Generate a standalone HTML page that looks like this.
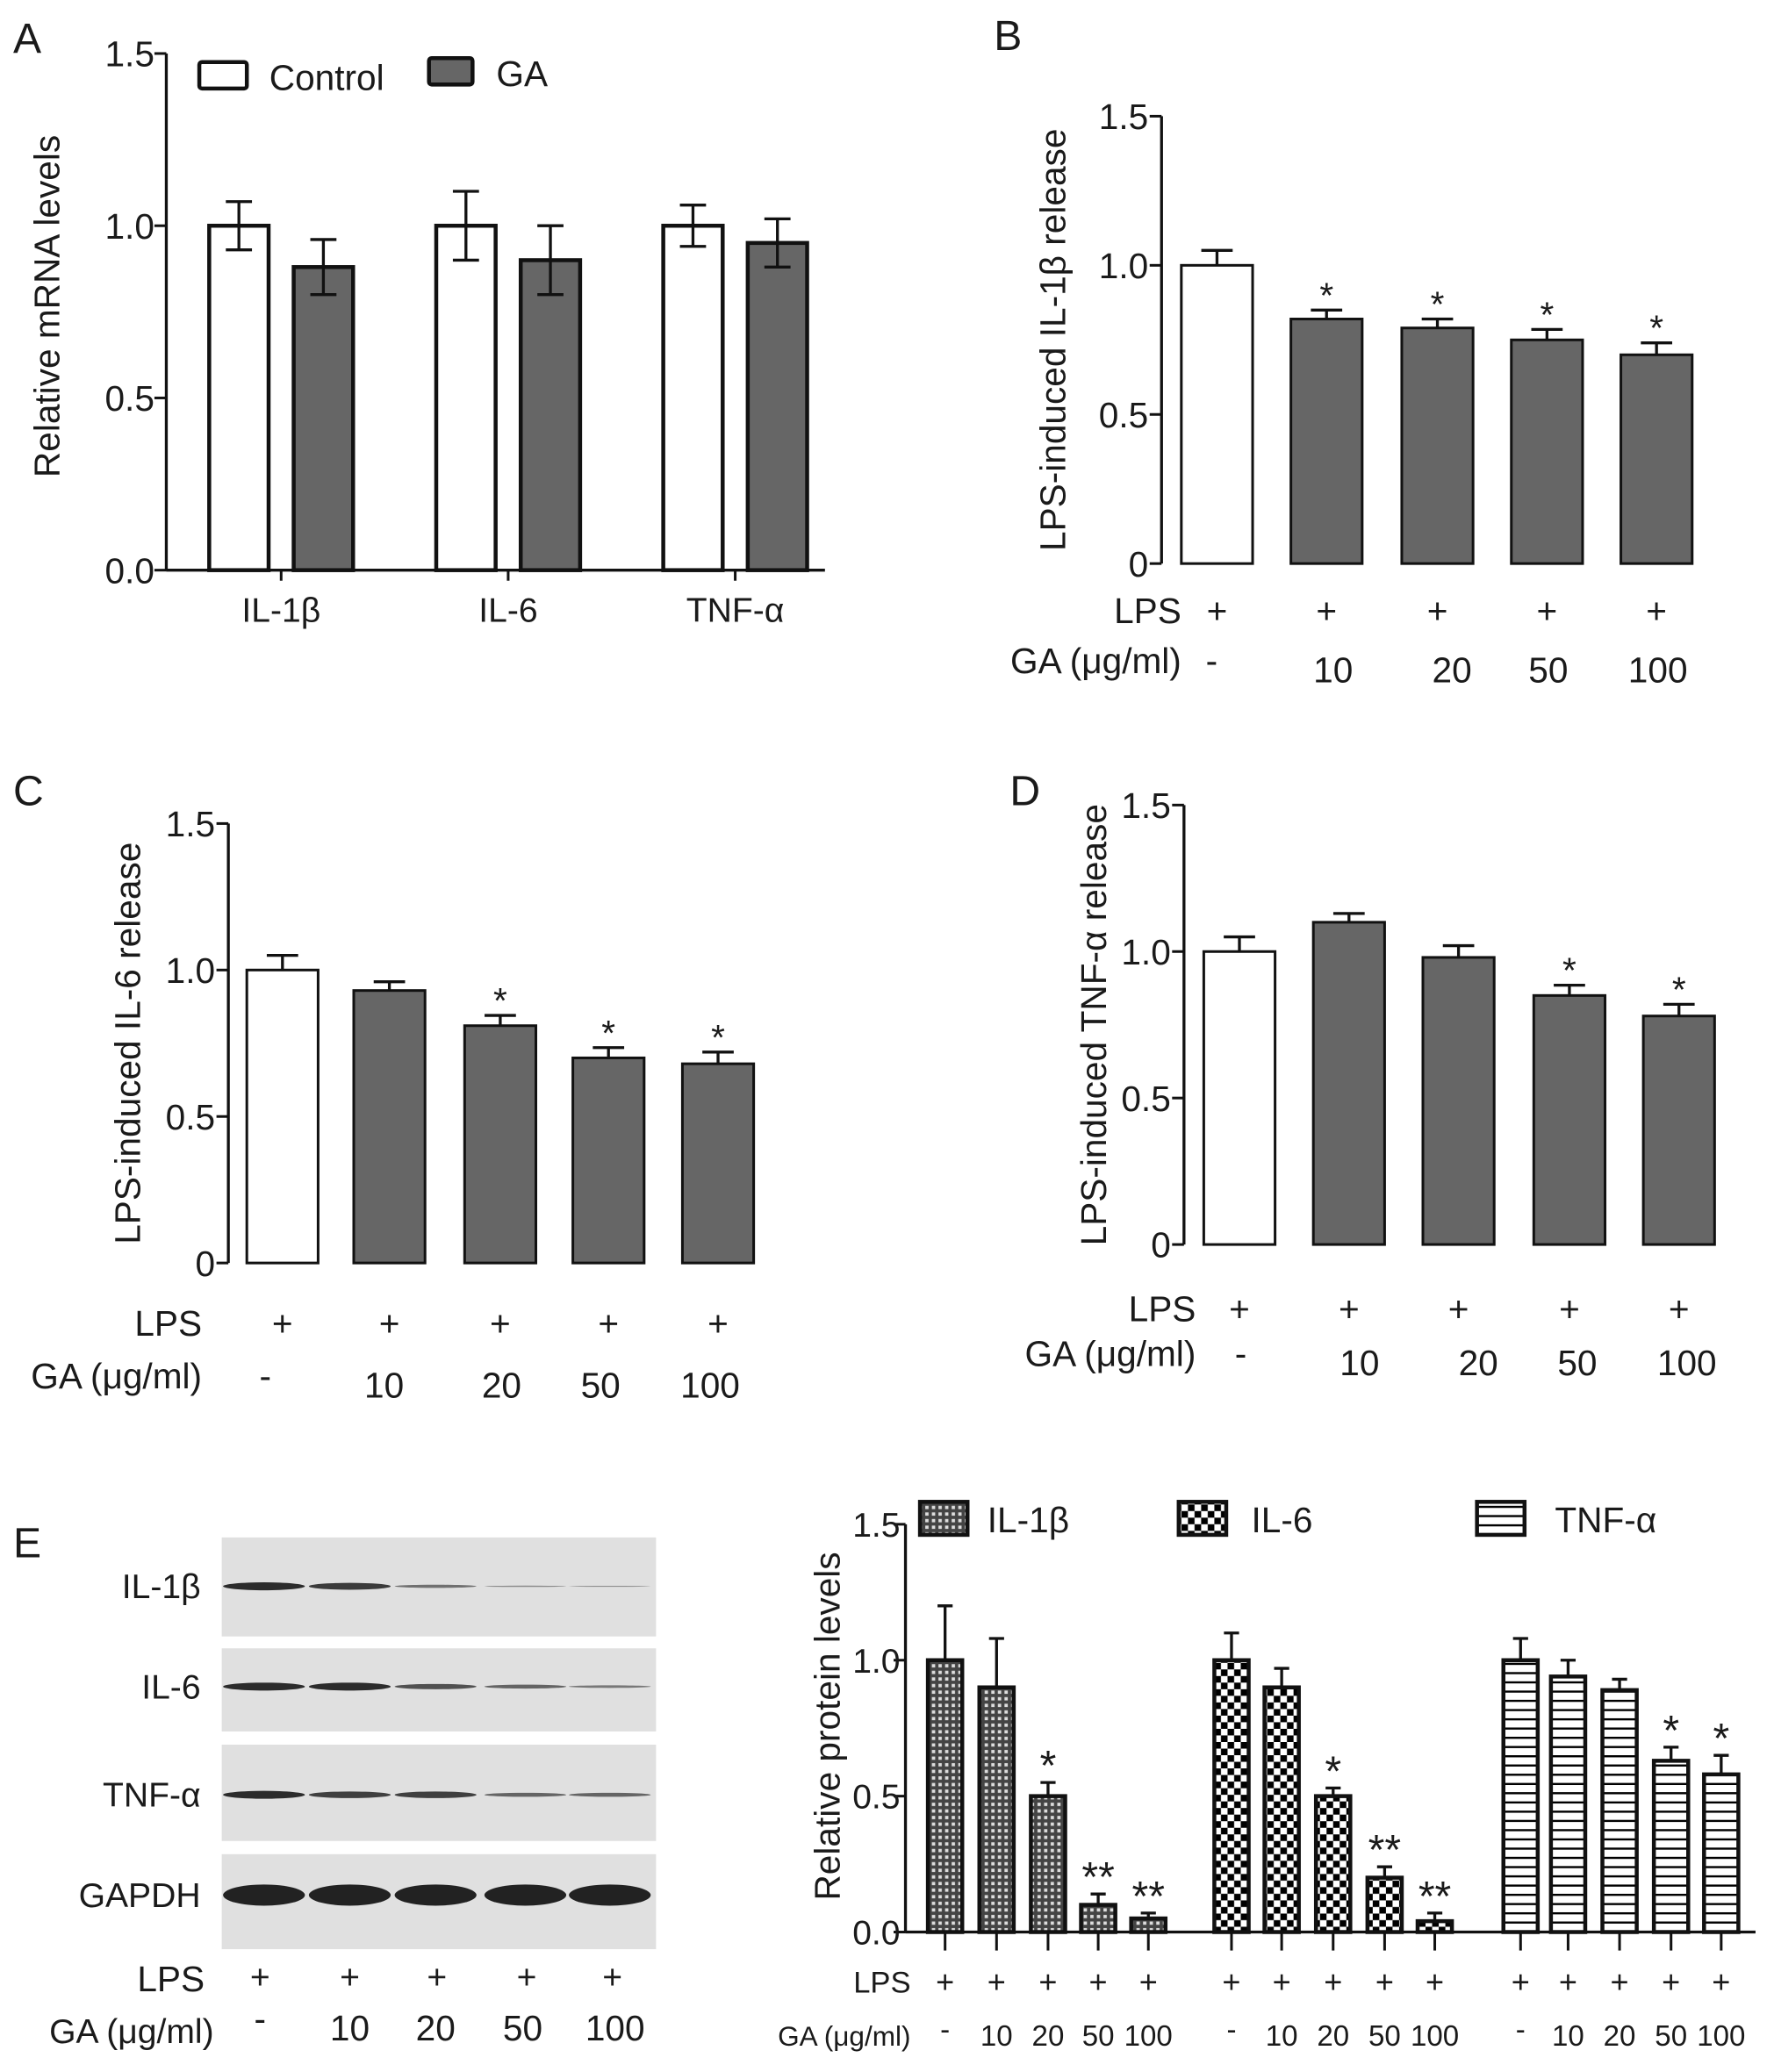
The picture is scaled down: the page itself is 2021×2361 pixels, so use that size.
<!DOCTYPE html>
<html><head><meta charset="utf-8"><style>
html,body{margin:0;padding:0;background:#fff}
svg{display:block}
text{font-family:"Liberation Sans",sans-serif;fill:#1a1a1a}
</style></head><body>
<svg id="fig" width="2021" height="2361" viewBox="0 0 1344 1570" xmlns="http://www.w3.org/2000/svg">
<defs>
<pattern id="pX" width="5" height="5" patternUnits="userSpaceOnUse"><rect width="5" height="5" fill="#444"/><rect x="1" y="1" width="2.5" height="2.5" fill="#ddd"/></pattern>
<pattern id="pC" width="10" height="10" patternUnits="userSpaceOnUse"><rect width="10" height="10" fill="#fff"/><rect width="5" height="5" fill="#000"/><rect x="5" y="5" width="5" height="5" fill="#000"/></pattern>
<pattern id="pH" width="6" height="7" patternUnits="userSpaceOnUse"><rect width="6" height="7" fill="#fff"/><rect y="0" width="6" height="1.6" fill="#000"/></pattern>
</defs>
<g id="root"></g>
</svg>
<script>
// Panel A
const catsA = ["IL-1β","IL-6","TNF-α"];
const ctrlA = [1.0,1.0,1.0];
const ctrlErrA = [0.07,0.10,0.06];
const gaA = [0.88,0.90,0.95];
const gaErrA = [0.08,0.10,0.07];
const ticksA = ["0.0","0.5","1.0","1.5"];
// Panel B
const doses = ["-","10","20","50","100"];
const valsB = [1.0,0.82,0.79,0.75,0.70];
const errB = [0.05,0.03,0.03,0.035,0.04];
const starsB = ["","*","*","*","*"];
// Panel C
const valsC = [1.0,0.93,0.81,0.70,0.68];
const errC = [0.05,0.03,0.035,0.035,0.04];
const starsC = ["","","*","*","*"];
// Panel D
const valsD = [1.0,1.10,0.98,0.85,0.78];
const errD = [0.05,0.03,0.04,0.035,0.04];
const starsD = ["","","","*","*"];
const ticksBCD = ["0","0.5","1.0","1.5"];
// Panel E
const seriesE = ["IL-1β","IL-6","TNF-α"];
const valsE1 = [1.0,0.9,0.5,0.1,0.05];
const errE1 = [0.2,0.18,0.05,0.04,0.02];
const starsE1 = ["","","*","**","**"];
const valsE2 = [1.0,0.9,0.5,0.2,0.04];
const errE2 = [0.1,0.07,0.03,0.04,0.03];
const starsE2 = ["","","*","**","**"];
const valsE3 = [1.0,0.94,0.89,0.63,0.58];
const errE3 = [0.08,0.06,0.04,0.05,0.07];
const starsE3 = ["","","","*","*"];
const ticksE = ["0.0","0.5","1.0","1.5"];

const NS="http://www.w3.org/2000/svg";
const root=document.getElementById('root');
function el(tag,attrs,parent,txt){const e=document.createElementNS(NS,tag);for(const k in attrs)e.setAttribute(k,attrs[k]);if(txt!==undefined)e.textContent=txt;(parent||root).appendChild(e);return e;}
function yScale(y0,y15){return v=>y0+(y15-y0)*v/1.5;}
function line(x1,y1,x2,y2,w,p){return el('line',{x1,y1,x2,y2,stroke:'#111','stroke-width':w||2},p);}

function axisY(g,x,y,ticks,fs,tx){ticks.forEach((t,i)=>{const yy=y(i*0.5);line(x-9,yy,x,yy,2,g);const lab=el('text',{x:tx,y:yy+fs*0.36,'font-size':fs,'text-anchor':'end'},g,t);

});
line(x,y(0),x,y(1.5),2.2,g);}

function bar(g,xc,w,v,e,y,fill,name,both,sw){
 const b=el('rect',{x:xc-w/2,y:y(v),width:w,height:y(0)-y(v),fill,stroke:'#111','stroke-width':sw||3},g);
 
 
 const top=y(v+e),bot=both?y(v-e):y(v);
 line(xc,top,xc,bot,2.2,g);line(xc-w*0.22,top,xc+w*0.22,top,2.2,g);
 if(both)line(xc-w*0.22,bot,xc+w*0.22,bot,2.2,g);
 return top;}

function txt(g,x,y,s,fs,anchor,name,extra){const t=el('text',Object.assign({x,y,'font-size':fs,'text-anchor':anchor||'middle'},extra||{}),g,s);

return t;}

// ---------- Panel A
(function(){const g=el('g',{});
 txt(g,10,40,"A",32,'start','panel-label-a');
 const y=yScale(432,40.5);axisY(g,126,y,ticksA,27,117);
 line(126,432,625,432,2.2,g);
 const centers=[213,385,557];
 catsA.forEach((c,i)=>{const xc=centers[i];line(xc,432,xc,440,2,g);
  bar(g,xc-32,45,ctrlA[i],ctrlErrA[i],y,'#fff','bar-control-'+i,true);
  bar(g,xc+32,45,gaA[i],gaErrA[i],y,'#666','bar-ga-'+i,true);
  txt(g,xc,471,c,26,'middle','x-tick-label');});
 txt(g,45,232,"Relative mRNA levels",27,'middle','y-axis-title',{transform:'rotate(-90 45 232)'});
 const l1=el('rect',{x:151,y:47,width:36,height:20,fill:'#fff',stroke:'#111','stroke-width':3,rx:2},g);
 txt(g,204,68,"Control",27,'start','legend-control');
 const l2=el('rect',{x:325,y:44,width:33,height:20,fill:'#666',stroke:'#111','stroke-width':3,rx:2},g);
 txt(g,376,65,"GA",27,'start','legend-ga');})();

function doseChart(name,letter,lx,ly,ax,y0,y15,xs,w,vals,errs,stars,ylab,ylx,lpsY,gaY,gaLabX,doseXs,lpsLabX){
 const g=el('g',{});
 txt(g,lx,ly,letter,32,'start','panel-label');
 const y=yScale(y0,y15);axisY(g,ax,y,ticksBCD,27,ax-10);
 vals.forEach((v,i)=>{const top=bar(g,xs[i],w,v,errs[i],y,i===0?'#fff':'#666','bar-dose-'+doses[i],false,2);
  if(stars[i])txt(g,xs[i],top-2,stars[i],27,'middle','significance-star');
  txt(g,xs[i],lpsY,"+",27,'middle','lps-plus');
  txt(g,doseXs[i],gaY-(i===0?7:0),doses[i],27,'middle','ga-dose');});
 txt(g,lpsLabX,lpsY,"LPS",27,'end','lps-label');
 txt(g,gaLabX,gaY-7,"GA (μg/ml)",27,'end','ga-label');
 const cy=(y0+y15)/2;txt(g,ylx,cy,ylab,27,'middle','y-axis-title',{transform:`rotate(-90 ${ylx} ${cy})`});
}
doseChart('panel-b','B',753,38,880,427,88,[922,1005,1089,1172,1255],54,valsB,errB,starsB,"LPS-induced IL-1β release",807,472,517,895,[918,1010,1100,1173,1256],895);
doseChart('panel-c','C',10,610,173,957,624,[214,295,379,461,544],54,valsC,errC,starsC,"LPS-induced IL-6 release",106,1012,1059,153,[201,291,380,455,538],153);
doseChart('panel-d','D',765,610,897,943,610,[939,1022,1105,1189,1272],54,valsD,errD,starsD,"LPS-induced TNF-α release",838,1001,1042,906,[940,1030,1120,1195,1278],906);

// ---------- Panel E blot
(function(){const g=el('g',{});
 txt(g,10,1180,"E",32,'start','panel-label-e');
 const strips=[[1165,1240,"IL-1β",1202,[3,2.6,1.2,0.5,0.4]],[1249,1312,"IL-6",1278,[3,3,2,1.5,1]],[1322,1395,"TNF-α",1360,[3,2.5,2.5,1.5,1.5]],[1405,1477,"GAPDH",1436,[8,8,8,8,8]]];
 const lanes=[200,265,330,398,462];
 strips.forEach(s=>{const r=el('rect',{x:168,y:s[0],width:329,height:s[1]-s[0],fill:'#e0e0e0'},g);
  lanes.forEach((lx,i)=>{const h=s[4][i];el('ellipse',{cx:lx,cy:s[3],rx:31,ry:h,fill:'#222',opacity:Math.min(1,0.35+h*0.2)},g);});
  txt(g,152,s[3]+9,s[2],26,'end','blot-label');});
 txt(g,155,1509,"LPS",27,'end','lps-label');
 txt(g,162,1548,"GA (μg/ml)",26,'end','ga-label');
 [197,265,331,399,464].forEach(x=>txt(g,x,1507,"+",26,'middle','lps-plus'));
 [197,265,330,396,466].forEach((x,i)=>txt(g,x,1546-(i===0?7:0),doses[i],27,'middle','ga-dose'));})();

// ---------- Panel E chart
(function(){const g=el('g',{});
 const y=yScale(1464,1155);axisY(g,686,y,ticksE,26,682);
 line(686,1464,1330,1464,2.2,g);
 const groups=[[valsE1,errE1,starsE1,'url(#pX)',[716,755,794,832,870]],[valsE2,errE2,starsE2,'url(#pC)',[933,971,1010,1049,1087]],[valsE3,errE3,starsE3,'url(#pH)',[1152,1188,1227,1266,1304]]];
 groups.forEach((gr,k)=>{gr[0].forEach((v,i)=>{const xc=gr[4][i];line(xc,1464,xc,1478,2,g);
   const top=bar(g,xc,26,v,gr[1][i],y,gr[3],'bar-'+seriesE[k]+'-'+doses[i],false,3);
   if(gr[2][i])txt(g,xc,top-2,gr[2][i],32,'middle','significance-star');
   txt(g,xc,1510,"+",24,'middle','lps-plus');
   txt(g,xc,1550-(i===0?5:0),doses[i],22,'middle','ga-dose');});});
 txt(g,690,1510,"LPS",23,'end','lps-label');
 txt(g,690,1550,"GA (μg/ml)",21,'end','ga-label');
 txt(g,636,1308,"Relative  protein levels",27,'middle','y-axis-title',{transform:'rotate(-90 636 1308)'});
 const leg=[[697,748,'url(#pX)'],[893,948,'url(#pC)'],[1119,1178,'url(#pH)']];
 leg.forEach((l,i)=>{const r=el('rect',{x:l[0],y:1138,width:36,height:25,fill:l[2],stroke:'#111','stroke-width':3},g);
  txt(g,l[1],1161,seriesE[i],27,'start','legend-entry');});})();
</script>
</body></html>
